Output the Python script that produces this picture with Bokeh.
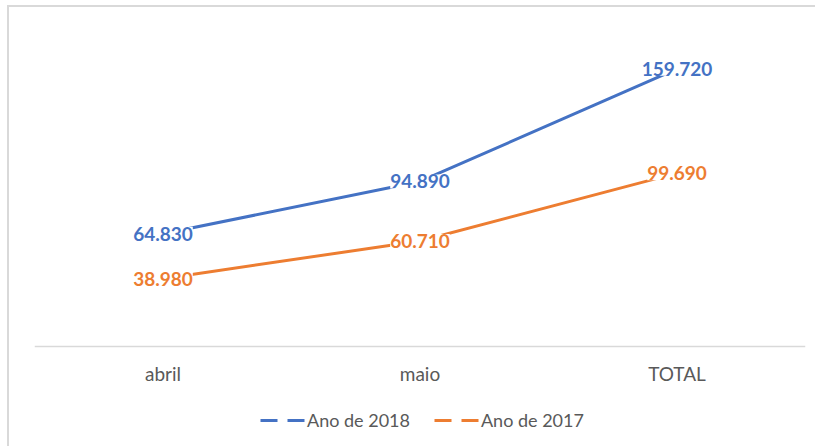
from bokeh.plotting import figure
from bokeh.models import ColumnDataSource, LabelSet, Legend, LegendItem, Range1d, FactorRange
from bokeh.core.properties import value
from bokeh.embed import file_html
from bokeh.resources import INLINE

categories = ["abril", "maio", "TOTAL"]
ano_2018 = [64830, 94890, 159720]
ano_2017 = [38980, 60710, 99690]
series_names = ["Ano de 2018", "Ano de 2017"]

# value axis: 0 .. 180.000 (hidden), extended below zero so the category
# labels and the legend fit inside the plot frame
Y_MAX = 180000
Y_MIN = -58660


def fmt(v):
    return f"{v:,}".replace(",", ".")


BLUE = "#4472C4"
ORANGE = "#ED7D31"
GREY_TEXT = "#595959"
FONT = "Lato"

src = ColumnDataSource(dict(
    cat=categories,
    v2018=ano_2018,
    v2017=ano_2017,
    l2018=[fmt(v) for v in ano_2018],
    l2017=[fmt(v) for v in ano_2017],
))

p = figure(width=808, height=441,
           x_range=FactorRange(*categories, range_padding=0),
           y_range=Range1d(Y_MIN, Y_MAX),
           output_backend="svg", toolbar_location=None,
           min_border_left=25, min_border_right=12,
           min_border_top=26, min_border_bottom=0)
p.styles = {"margin-left": "7px", "margin-top": "5px",
            "border-left": "2px solid #d9d9d9", "border-top": "2px solid #d9d9d9"}
p.outline_line_color = None
p.xgrid.grid_line_color = None
p.ygrid.grid_line_color = None
p.yaxis.visible = False

ax = p.xaxis[0]
ax.fixed_location = 0
ax.axis_line_color = "#d9d9d9"
ax.axis_line_width = 1.5
ax.major_tick_line_color = None
ax.minor_tick_line_color = None
ax.major_label_text_font = FONT
ax.major_label_text_font_size = "19px"
ax.major_label_text_color = GREY_TEXT
ax.major_label_standoff = 10

p.line(x="cat", y="v2018", source=src, line_width=3, line_color=BLUE, line_join="round")
p.line(x="cat", y="v2017", source=src, line_width=3, line_color=ORANGE, line_join="round")

for col, lab, color in (("v2018", "l2018", BLUE), ("v2017", "l2017", ORANGE)):
    ls = LabelSet(x="cat", y=col, text=lab, source=src,
                  text_align="center", text_baseline="middle",
                  text_font=value(FONT), text_font_style="bold",
                  text_font_size="19px", text_color=color,
                  background_fill_color="white")
    p.add_layout(ls)

# legend-only renderers (no visible data)
d1 = p.line(x=[categories[0]], y=[float("nan")], line_width=3, line_color=BLUE, line_dash="17 10")
d2 = p.line(x=[categories[0]], y=[float("nan")], line_width=3, line_color=ORANGE, line_dash="17 10")

legend = Legend(items=[LegendItem(label=series_names[0], renderers=[d1]),
                       LegendItem(label=series_names[1], renderers=[d2])],
                orientation="horizontal", location=(226, 17),
                border_line_color=None, background_fill_alpha=0,
                label_text_font=FONT, label_text_font_size="18px",
                label_text_color=GREY_TEXT,
                glyph_width=45, glyph_height=20, label_standoff=2,
                spacing=24, padding=0, margin=0)
p.add_layout(legend, "center")

open("out.html", "w").write(file_html(p, INLINE))
